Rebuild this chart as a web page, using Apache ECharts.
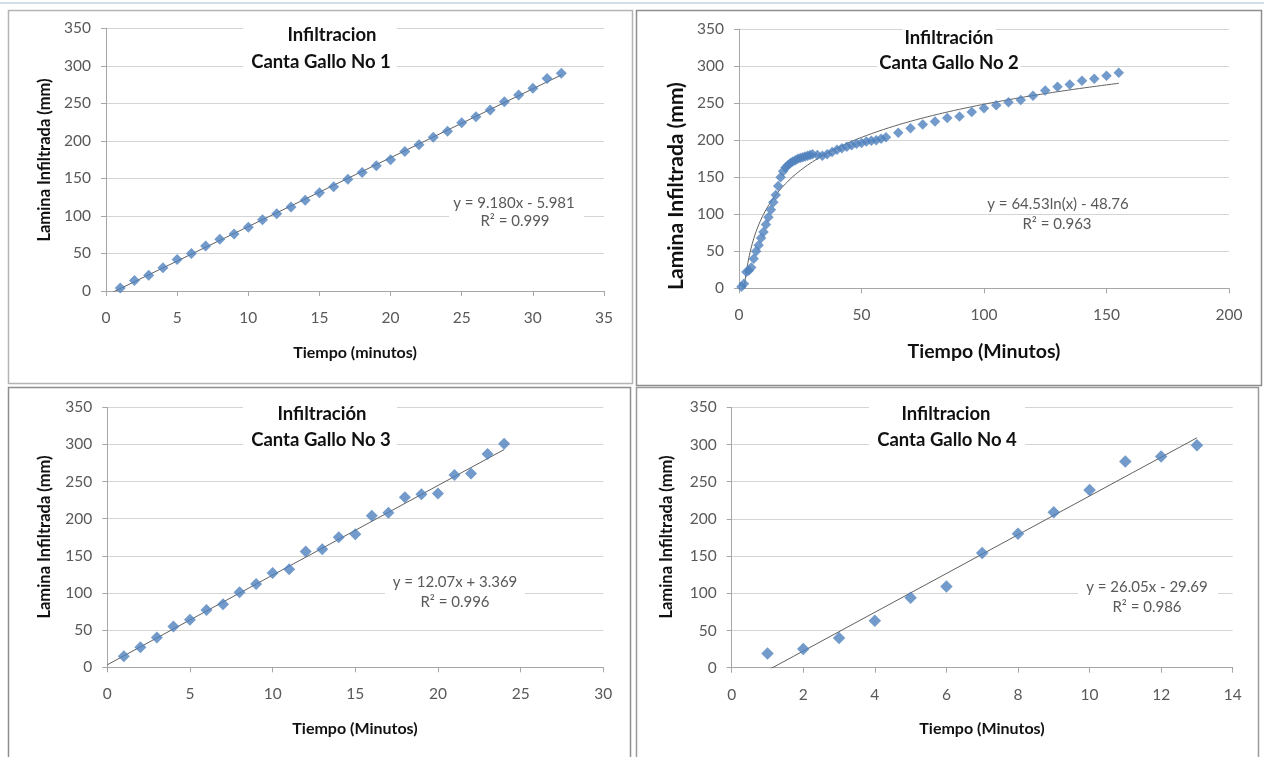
<!DOCTYPE html>
<html><head><meta charset="utf-8">
<script src="https://cdn.jsdelivr.net/npm/echarts@6/dist/echarts.min.js"></script>
<style>html,body{margin:0;padding:0;background:#fff;}#c{width:1264px;height:757px;}</style>
</head><body><div id="c"></div>
<script>
// ---------- data ----------
const p1Time = [1,2,3,4,5,6,7,8,9,10,11,12,13,14,15,16,17,18,19,20,21,22,23,24,25,26,27,28,29,30,31,32];
const p1Lamina = [4,14,21,31,42,50,60,69,76,85,95,103,112,121,131,139,149,158,167,175,186,195,205,213,224,232,241,252,261,270,283,290];
const p1Fit = [9.180, -5.981];
const p1FitRange = [0, 32];

const p2Time = [1,2,3,4,5,6,7,8,9,10,11,12,13,14,15,16,17,18,19,20,21,22,23,24,25,26,27,28,29,30,32,34,36,38,40,42,44,46,48,50,52,54,56,58,60,65,70,75,80,85,90,95,100,105,110,115,120,125,130,135,140,145,150,155];
const p2Lamina = [2,6,22,24,28,40,50,58,68,76,86,96,106,116,126,138,150,158,163,166,169,171,173,175,176,177,178,179,180,181,180,179,181,184,187,189,191,193,195,196,198,199,200,202,204,210,216,221,225,230,232,238,243,247,251,254,260,267,272,275,280,283,287,291];
const p2Fit = [64.53, -48.76];
const p2FitRange = [1, 155];

const p3Time = [1,2,3,4,5,6,7,8,9,10,11,12,13,14,15,16,17,18,19,20,21,22,23,24];
const p3Lamina = [15,27,40,55,64,77,85,101,112,127,132,156,159,175,179,204,208,229,233,234,259,261,287,301];
const p3Fit = [12.07, 3.369];
const p3FitRange = [0, 24];

const p4Time = [1,2,3,4,5,6,7,8,9,10,11,12,13];
const p4Lamina = [19,25,40,63,94,109,154,180,209,239,277,284,299];
const p4Fit = [26.05, -29.69];
const p4FitRange = [1, 13];

const titles1 = ['Infiltracion', 'Canta Gallo No 1'];
const titles2 = ['Infiltración', 'Canta Gallo No 2'];
const titles3 = ['Infiltración', 'Canta Gallo No 3'];
const titles4 = ['Infiltracion', 'Canta Gallo No 4'];
const eq1 = ['y = 9.180x - 5.981', 'R² = 0.999'];
const eq2 = ['y = 64.53ln(x) - 48.76', 'R² = 0.963'];
const eq3 = ['y = 12.07x + 3.369', 'R² = 0.996'];
const eq4 = ['y = 26.05x - 29.69', 'R² = 0.986'];
const yName = 'Lamina Infiltrada (mm)';
const xNames = ['Tiempo (minutos)', 'Tiempo (Minutos)', 'Tiempo (Minutos)', 'Tiempo (Minutos)'];
const xMax = [35, 200, 30, 14];
const xStep = [5, 50, 5, 2];

// ---------- helpers ----------
const FONT = 'Lato, "Open Sans", sans-serif';
const BLUE = '#4f81bd';
function pts(xs, ys){ return xs.map((x,i)=>[x, ys[i]]); }
function linFit(c, r){ return [[r[0], c[0]*r[0]+c[1]], [r[1], c[0]*r[1]+c[1]]]; }
function logFit(c, r){
  const out = [];
  for (let x = r[0]; x <= r[1] + 1e-9; x += (x < 10 ? 0.05 : 1)) out.push([x, c[0]*Math.log(x)+c[1]]);
  return out;
}

const grids = [
  {left:106, top:28.3, width:498, height:262.7},
  {left:739, top:29, width:490, height:259.3},
  {left:107.3, top:407.3, width:496, height:260},
  {left:731.7, top:407.3, width:501, height:260.4}
];

const xAxes = grids.map((g,i)=>({
  type:'value', gridIndex:i, min:0, max:xMax[i], interval:xStep[i],
  axisLine:{show:true, lineStyle:{color:'#a6a6a6', width:1}},
  axisTick:{show:true, length:5, lineStyle:{color:'#a6a6a6'}},
  axisLabel:{color:'#595959', fontFamily:FONT, fontSize:15.5, margin:19},
  splitLine:{show:false}
}));
const yAxes = grids.map((g,i)=>({
  type:'value', gridIndex:i, min:0, max:350, interval:50,
  axisLine:{show:true, lineStyle:{color:'#a6a6a6', width:1}},
  axisTick:{show:true, length:5, lineStyle:{color:'#a6a6a6'}},
  axisLabel:{color:'#595959', fontFamily:FONT, fontSize:15.5, margin:15},
  splitLine:{show:true, lineStyle:{color:'#d4d4d4', width:1}}
}));

const scatterSizes = [11, 10.5, 12, 12.5];
const allPts = [pts(p1Time,p1Lamina), pts(p2Time,p2Lamina), pts(p3Time,p3Lamina), pts(p4Time,p4Lamina)];
const fits = [linFit(p1Fit,p1FitRange), logFit(p2Fit,p2FitRange), linFit(p3Fit,p3FitRange), linFit(p4Fit,p4FitRange)];

const series = [];
for (let i=0;i<4;i++){
  series.push({type:'scatter', xAxisIndex:i, yAxisIndex:i, data:allPts[i], symbol:'diamond',
    symbolSize:scatterSizes[i], itemStyle:{color:BLUE}, silent:true, z:3});
  series.push({type:'line', xAxisIndex:i, yAxisIndex:i, data:fits[i], showSymbol:false, clip:true,
    lineStyle:{color:'#606060', width:1}, silent:true, z:2});
}

// ---------- graphics (frames, titles, labels) ----------
const g = [];
g.push({type:'rect', shape:{x:0,y:2,width:1264,height:2}, style:{fill:'#d3deeb'}, z:0});
const frames = [
  {x:8.5,y:10.5,w:624,h:373,c:'#b4b4b4'},
  {x:636.5,y:10.5,w:625,h:375,c:'#8e8e8e'},
  {x:8.5,y:387.5,w:622,h:380,c:'#8e8e8e'},
  {x:636.5,y:387.5,w:622,h:380,c:'#9a9a9a'}
];
frames.forEach(f=>g.push({type:'rect', shape:{x:f.x,y:f.y,width:f.w,height:f.h}, style:{fill:null, stroke:f.c, lineWidth:1.5}, z:1}));

function box(x,y,w,h){ g.push({type:'rect', shape:{x,y,width:w,height:h}, style:{fill:'#ffffff'}, z:50}); }
function txt(s,x,y,font,color,rot,bg){
  const el = {type:'text', x, y, z:60, style:{text:s, font, fill:color, align:'center', verticalAlign:'middle'}};
  if (rot) el.rotation = rot;
  if (bg){ el.style.backgroundColor = '#ffffff'; el.style.padding = [1,2]; }
  g.push(el);
}
const TF = 'bold 18.5px ' + FONT;
// titles
box(243,18,154,56); txt(titles1[0],332,35,TF,'#111'); txt(titles1[1],321,62,TF,'#111');
txt(titles2[0],949,38,TF,'#111',0,true); txt(titles2[1],949,63,TF,'#111',0,true);
box(243,396,154,56); txt(titles3[0],322,414,TF,'#111'); txt(titles3[1],321,440,TF,'#111');
box(869,396,156,56); txt(titles4[0],946,414,TF,'#111'); txt(titles4[1],947,440,TF,'#111');
// equations
const EF = '15px ' + FONT, EC = '#595959';
box(449,193,135,36); txt(eq1[0],514,203,EF,EC); txt(eq1[1],515,221,EF,EC);
txt(eq2[0],1058,204,EF,EC); txt(eq2[1],1057,224,EF,EC);
box(385,572,140,40); txt(eq3[0],455,582,EF,EC); txt(eq3[1],455,602,EF,EC);
box(1078,577,140,40); txt(eq4[0],1147,587,EF,EC); txt(eq4[1],1147,607,EF,EC);
// axis names
const AY = 'bold 16.5px ' + FONT, AX = 'bold 16px ' + FONT;
const AY2 = 'bold 21px ' + FONT, AX2 = 'bold 19.5px ' + FONT;
txt(yName,45,160,AY,'#111',Math.PI/2);
txt(yName,676,186,AY2,'#111',Math.PI/2);
txt(yName,45,537,AY,'#111',Math.PI/2);
txt(yName,667,537,AY,'#111',Math.PI/2);
txt(xNames[0],355,353,AX,'#111');
txt(xNames[1],984,352,AX2,'#111');
txt(xNames[2],355,729,AX,'#111');
txt(xNames[3],982,729,AX,'#111');

const chart = echarts.init(document.getElementById('c'), null, {renderer:'canvas'});
chart.setOption({
  animation:false,
  backgroundColor:'#ffffff',
  grid: grids.map(gr=>Object.assign({containLabel:false, outerBoundsMode:'none'}, gr)),
  xAxis:xAxes, yAxis:yAxes, series, graphic:g
});
</script></body></html>
